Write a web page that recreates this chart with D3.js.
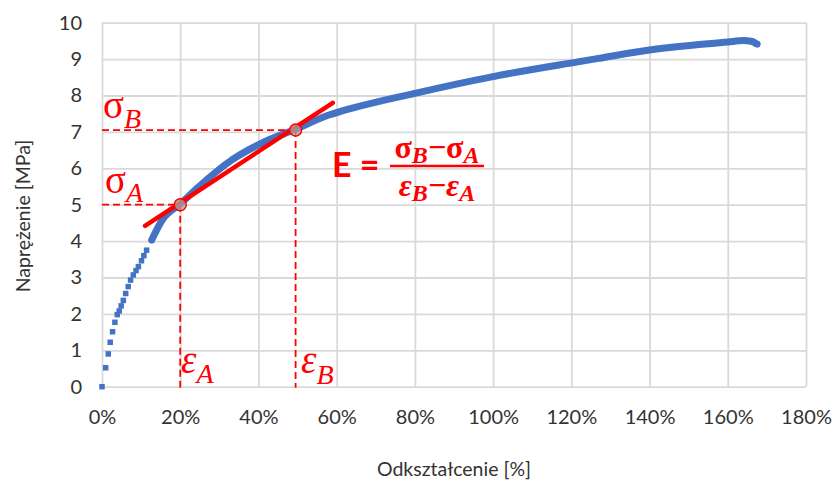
<!DOCTYPE html>
<html>
<head>
<meta charset="utf-8">
<script src="https://cdn.jsdelivr.net/npm/d3@7/dist/d3.min.js"></script>
<style>body{margin:0;background:#fff}</style>
</head>
<body>
<svg width="834" height="483" id="mainsvg"></svg>
<script>
// values: strain [%] and stress [MPa]
const strain = [0, 0.94, 1.6, 2.1, 2.7, 3.3, 3.9, 4.4, 4.9, 5.45, 6.05, 6.7, 7.3, 8.0, 8.7, 9.3,
    10.1, 10.7, 11.4, 12.7, 15.4, 20, 24.3, 33.5, 42, 49, 58.2, 60, 80, 100, 122, 127, 140, 160, 164, 166, 167.5];
const stress = [0, 0.52, 0.9, 1.22, 1.51, 1.77, 1.98, 2.08, 2.22, 2.37, 2.56, 2.75, 2.93, 3.07, 3.19, 3.3,
    3.46, 3.6, 3.75, 4.03, 4.58, 5.02, 5.45, 6.25, 6.75, 7.05, 7.47, 7.53, 8.06, 8.52, 8.93, 9.02, 9.25, 9.47, 9.51, 9.49, 9.41];
const xTicks = [0, 20, 40, 60, 80, 100, 120, 140, 160, 180];
const yTicks = [0, 1, 2, 3, 4, 5, 6, 7, 8, 9, 10];
const pointA = [20, 5.0];
const pointB = [49.5, 7.05];
const tangent = [[11, 4.42], [59, 7.8]];

const svg = d3.select('#mainsvg');
const x = d3.scaleLinear().domain([0, 180]).range([102, 806]);
const y = d3.scaleLinear().domain([0, 10]).range([386.7, 22.7]);
const blue = '#4472c4', red = '#ff0000';
const tickFont = 'Lato, "Liberation Sans", sans-serif';
const serif = '"Liberation Serif", "DejaVu Serif", serif';

// grid + tick labels
const gx = svg.append('g')
    .attr('transform', `translate(0,${y(0)})`)
    .call(d3.axisBottom(x).tickValues(xTicks).tickSize(-(y(0) - y(10))).tickPadding(23).tickFormat(d => d + '%'));
const gy = svg.append('g')
    .attr('transform', `translate(${x(0)},0)`)
    .call(d3.axisLeft(y).tickValues(yTicks).tickSize(-(x(180) - x(0))).tickPadding(20));
[gx, gy].forEach(g => {
    g.select('.domain').remove();
    g.selectAll('.tick line').attr('stroke', '#d9d9d9').attr('stroke-width', 1.8);
    g.selectAll('.tick text').attr('fill', '#333').style('font-family', tickFont).style('font-size', '20px');
});

// axis titles
svg.append('text')
    .attr('x', (x(0) + x(180)) / 2).attr('y', 476)
    .attr('text-anchor', 'middle').attr('fill', '#333')
    .style('font-family', tickFont).style('font-size', '19.5px')
    .text('Odkształcenie [%]');
svg.append('text')
    .attr('transform', 'translate(30,216) rotate(-90)')
    .attr('text-anchor', 'middle').attr('fill', '#333')
    .style('font-family', tickFont).style('font-size', '19.5px')
    .text('Naprężenie [MPa]');

// data series
const pts = strain.map((s, i) => [s, stress[i]]);
const dense = pts.filter(d => d[0] >= 12);
svg.append('path')
    .datum(dense)
    .attr('fill', 'none').attr('stroke', blue).attr('stroke-width', 7)
    .attr('stroke-linecap', 'round').attr('stroke-linejoin', 'round')
    .attr('d', d3.line().x(d => x(d[0])).y(d => y(d[1])).curve(d3.curveMonotoneX));
const ms = 5.5;
svg.append('g').selectAll('rect')
    .data(pts)
    .join('rect')
    .attr('x', d => x(d[0]) - ms / 2).attr('y', d => y(d[1]) - ms / 2)
    .attr('width', ms).attr('height', ms)
    .attr('fill', blue);

// dashed guides
const dash = svg.append('g').attr('stroke', red).attr('stroke-width', 1.8).attr('stroke-dasharray', '7,4');
[pointA, pointB].forEach(p => {
    dash.append('line').attr('x1', x(0)).attr('x2', x(p[0])).attr('y1', y(p[1])).attr('y2', y(p[1]));
    dash.append('line').attr('x1', x(p[0])).attr('x2', x(p[0])).attr('y1', y(p[1])).attr('y2', y(0) + 1);
});

// tangent
svg.append('line')
    .attr('x1', x(tangent[0][0])).attr('y1', y(tangent[0][1]))
    .attr('x2', x(tangent[1][0])).attr('y2', y(tangent[1][1]))
    .attr('stroke', red).attr('stroke-width', 4.5).attr('stroke-linecap', 'round');

svg.append('g').selectAll('circle')
    .data([pointA, pointB])
    .join('circle')
    .attr('cx', d => x(d[0])).attr('cy', d => y(d[1])).attr('r', 6)
    .attr('fill', '#a6a6a6').attr('fill-opacity', 0.75)
    .attr('stroke', red).attr('stroke-width', 1.5);

// symbol labels
function sym(px, py, main, sub, dy, italicMain) {
    const t = svg.append('text').attr('x', px).attr('y', py).attr('fill', red).style('font-family', serif);
    t.append('tspan').style('font-size', '39px').style('font-style', italicMain ? 'italic' : 'normal').text(main);
    t.append('tspan').attr('dy', dy).style('font-size', '28px').style('font-style', 'italic').text(sub);
}
sym(103, 118, 'σ', 'B', 10, false);
sym(105, 193, 'σ', 'A', 9, false);
sym(181, 373, 'ε', 'A', 10, true);
sym(301, 373, 'ε', 'B', 11, true);

// formula
svg.append('text')
    .attr('x', 332).attr('y', 177).attr('fill', red)
    .style('font-family', tickFont).style('font-size', '34px').style('font-weight', 'bold')
    .text('E =');
function fracRow(py, main, italicMain) {
    const t = svg.append('text').attr('x', 437).attr('y', py).attr('text-anchor', 'middle')
        .attr('fill', red).style('font-family', serif).style('font-weight', 'bold');
    const big = s => t.append('tspan').style('font-size', '32px').style('font-style', italicMain ? 'italic' : 'normal').text(s);
    const small = (s, dy) => t.append('tspan').attr('dy', dy).style('font-size', '24px').style('font-style', 'italic').text(s);
    big(main); small('B', 5);
    t.append('tspan').attr('dy', -5).style('font-size', '32px').text('−');
    big(main); small('A', 5);
}
fracRow(158, 'σ', false);
fracRow(196, 'ε', true);
svg.append('line').attr('x1', 390).attr('x2', 484).attr('y1', 166).attr('y2', 166)
    .attr('stroke', red).attr('stroke-width', 2.5);
</script>
</body>
</html>
